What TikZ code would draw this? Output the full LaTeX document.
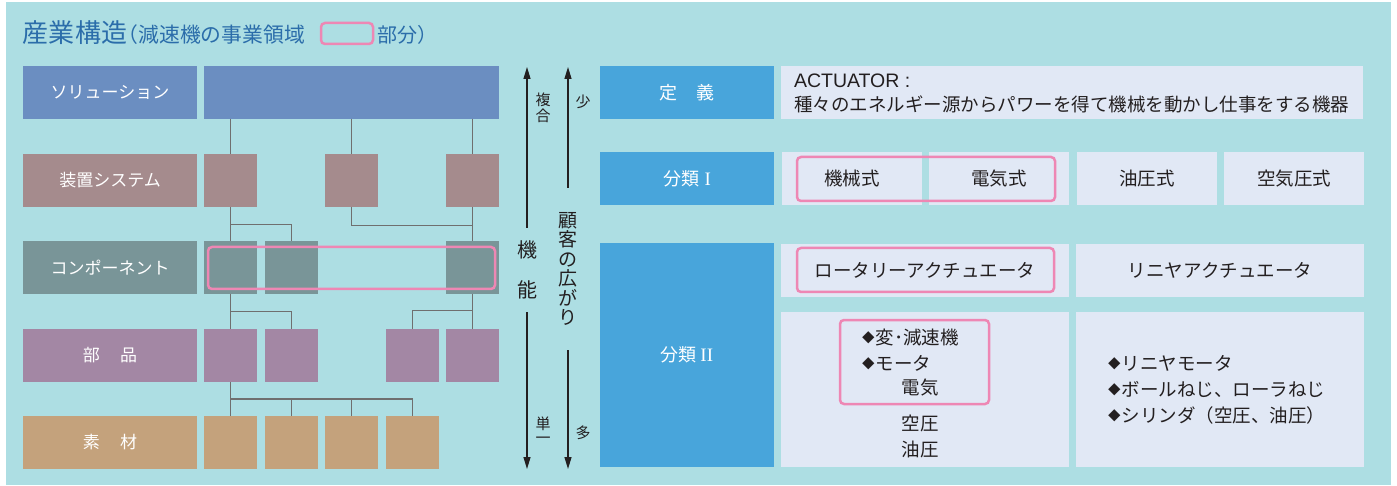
\documentclass[tikz,border=0pt]{standalone}
\usepackage{fontspec}
\setmainfont{Noto Sans CJK JP}
\newfontfamily\latinfont{Liberation Sans}
\newfontfamily\romfont{Liberation Serif}
\usetikzlibrary{arrows.meta,calc}
\definecolor{cbg}{HTML}{ADDEE3}
\definecolor{csol}{HTML}{6B8EC1}
\definecolor{csou}{HTML}{A58B8D}
\definecolor{ccomp}{HTML}{799598}
\definecolor{cbu}{HTML}{A387A4}
\definecolor{cso}{HTML}{C4A27C}
\definecolor{cblue}{HTML}{48A5DB}
\definecolor{ccell}{HTML}{E1E8F5}
\definecolor{cpink}{HTML}{EE87B4}
\definecolor{cline}{HTML}{6F6F6F}
\definecolor{ctext}{HTML}{231F20}
\definecolor{ctitle}{HTML}{2B6DAA}
\newcommand{\dmd}{\raisebox{2pt}{\fontsize{12.5}{12}\selectfont ◆}\hspace{1pt}}
\begin{document}
\begin{tikzpicture}[x=1pt,y=-1pt,
  every node/.style={inner sep=0pt,outer sep=0pt},
  blk/.style={anchor=north west,minimum height=53pt},
  lab/.style={blk,minimum width=174pt,text=white,font=\fontsize{17}{20}\selectfont},
  sq/.style={blk,minimum width=53pt},
  conn/.style={draw=cline,line width=1.1pt},
  hl/.style={anchor=north west,draw=cpink,line width=2.5pt,rounded corners=4pt},
  bb/.style={blk,minimum width=174pt,fill=cblue,text=white,font=\fontsize{18}{22}\selectfont},
  cell/.style={blk,fill=ccell,text=ctext,font=\fontsize{18.5}{22}\selectfont},
  txt/.style={text=ctext,font=\fontsize{18.5}{22}\selectfont},
  arr/.style={draw=ctext,line width=1.2pt,-{Triangle[length=12pt,width=7pt]}},
  vtxt/.style={text=ctext,align=center}
]
\useasboundingbox (0,0) rectangle (1397,486);
\fill[white] (0,0) rectangle (1397,486);
\fill[cbg] (6,2) rectangle (1391,485);

% title
\node[anchor=west,text=ctitle] (title) at (23,33)
  {{\fontsize{26}{30}\selectfont 産業構造}{\fontsize{20.8}{24}\selectfont\hspace{-0.45em}（減速機の事業領域}};
\node[hl,minimum width=52pt,minimum height=21pt] (tbox) at (321,23) {};
\node[anchor=west,text=ctitle,font=\fontsize{20}{24}\selectfont] (title2) at (377,35) {部分）};

% left hierarchy
\node[lab,fill=csol] (Lsol) at (23,66) {ソリューション};
\node[blk,fill=csol,minimum width=295pt] (sol) at (204,66) {};
\node[lab,fill=csou] (Lsou) at (23,154) {装置システム};
\node[sq,fill=csou] (s1) at (204,154) {};
\node[sq,fill=csou] (s2) at (325,154) {};
\node[sq,fill=csou] (s3) at (446,154) {};
\node[lab,fill=ccomp] (Lcomp) at (23,241) {コンポーネント};
\node[sq,fill=ccomp] (c1) at (204,241) {};
\node[sq,fill=ccomp] (c2) at (265,241) {};
\node[sq,fill=ccomp] (c3) at (446,241) {};
\node[lab,fill=cbu] (Lbu) at (23,329) {部\hspace{1.2em}品};
\node[sq,fill=cbu] (p1) at (204,329) {};
\node[sq,fill=cbu] (p2) at (265,329) {};
\node[sq,fill=cbu] (p3) at (386,329) {};
\node[sq,fill=cbu] (p4) at (446,329) {};
\node[lab,fill=cso] (Lso) at (23,416) {素\hspace{1.2em}材};
\node[sq,fill=cso] (m1) at (204,416) {};
\node[sq,fill=cso] (m2) at (265,416) {};
\node[sq,fill=cso] (m3) at (325,416) {};
\node[sq,fill=cso] (m4) at (386,416) {};

% connectors
\draw[conn] (sol.south -| s1.north) -- (s1.north);
\draw[conn] (sol.south -| s2.north) -- (s2.north);
\draw[conn] (sol.south -| s3.north) -- (s3.north);
\draw[conn] (s1.south) -- (c1.north);
\coordinate (j1) at ($(s1.south)!.52!(c1.north)$);
\draw[conn] (j1) -| (c2.north);
\draw[conn] (s3.south) -- (c3.north);
\draw[conn] (s2.south) |- ($(s3.south)!.55!(c3.north)$);
\draw[conn] (c1.south) -- (p1.north);
\coordinate (j2) at ($(c1.south)!.5!(p1.north)$);
\draw[conn] (j2) -| (p2.north);
\draw[conn] (c3.south) -- (p4.north);
\coordinate (j3) at ($(c3.south)!.47!(p4.north)$);
\draw[conn] (j3) -| (p3.north);
\draw[conn] (p1.south) -- (m1.north);
\coordinate (j4) at ($(p1.south)!.5!(m1.north)$);
\draw[conn] (j4) -| (m2.north);
\draw[conn] (j4) -| (m3.north);
\draw[conn] (j4) -| (m4.north);

\node[hl,minimum width=287pt,minimum height=42pt] (hlc) at (208,247) {};

% vertical arrows
\node[vtxt,font=\fontsize{20}{40}\selectfont,minimum height=84pt] (kinou) at (527,270) {機\\能};
\coordinate (ktop) at (527,67);
\coordinate (kbot) at (527,469);
\draw[arr] (kinou.north) -- (ktop);
\draw[arr] (kinou.south) -- (kbot);
\node[vtxt,font=\fontsize{19}{19.5}\selectfont,minimum height=162pt] (kyaku) at (568,269) {顧\\客\\の\\広\\が\\り};
\coordinate (gtop) at (568,67);
\coordinate (gbot) at (568,469);
\draw[arr] (kyaku.north) -- (gtop);
\draw[arr] (kyaku.south) -- (gbot);
\node[vtxt,font=\fontsize{15}{16}\selectfont] (fukugo) at (543,108) {複\\合};
\node[vtxt,font=\fontsize{15}{14}\selectfont] (tanitsu) at (543,430) {単\\一};
\node[vtxt,font=\fontsize{15}{16}\selectfont] (sho) at (583,102) {少};
\node[vtxt,font=\fontsize{15}{16}\selectfont] (ta) at (583,433) {多};

% right table
\node[bb] (def) at (600,66) {定\hspace{1.1em}義};
\node[bb] (b1) at (600,152) {分類\hspace{0.3em}{\romfont\fontsize{19}{22}\selectfont I}};
\node[bb,minimum height=224pt] (b2) at (600,243) {分類\hspace{0.2em}{\romfont\fontsize{19}{22}\selectfont II}};

\node[cell,minimum width=582pt] (defc) at (781,66) {};
\node[txt,anchor=west,align=left,font=\fontsize{18.5}{24}\selectfont] (deft) at (794,93)
  {{\latinfont\fontsize{19.5}{24}\selectfont ACTUATOR :}\\種々のエネルギー源からパワーを得て機械を動かし仕事をする機器};

\node[cell,minimum width=140pt] (k1) at (782,152) {機械式};
\node[cell,minimum width=140pt] (k2) at (929,152) {電気式};
\node[cell,minimum width=140pt] (k3) at (1077,152) {油圧式};
\node[cell,minimum width=140pt] (k4) at (1224,152) {空気圧式};
\node[hl,minimum width=258pt,minimum height=44pt] (hl1) at (797,157) {};

\node[cell,minimum width=288pt] (r1) at (781,244) {ロータリーアクチュエータ};
\node[cell,minimum width=288pt] (r2) at (1076,244) {リニヤアクチュエータ};
\node[hl,minimum width=257pt,minimum height=44pt] (hl2) at (797,248) {};

\node[cell,minimum width=288pt,minimum height=155pt] (r3) at (781,312) {};
\node[cell,minimum width=288pt,minimum height=155pt] (r4) at (1076,312) {};
\node[txt,anchor=west] (a1) at (862,337) {\dmd 変･減速機};
\node[txt,anchor=west] (a2) at (862,363) {\dmd モータ};
\node[txt] (a3) at (920,388) {電気};
\node[txt] (a4) at (920,423) {空圧};
\node[txt] (a5) at (920,449) {油圧};
\node[hl,minimum width=149pt,minimum height=84pt] (hl3) at (840,320) {};
\node[txt,anchor=west,align=left,font=\fontsize{18.5}{26}\selectfont] (blist) at (1108,390)
  {\dmd リニヤモータ\\\dmd ボールねじ、ローラねじ\\\dmd シリンダ（空圧、油圧）};
\end{tikzpicture}
\end{document}
